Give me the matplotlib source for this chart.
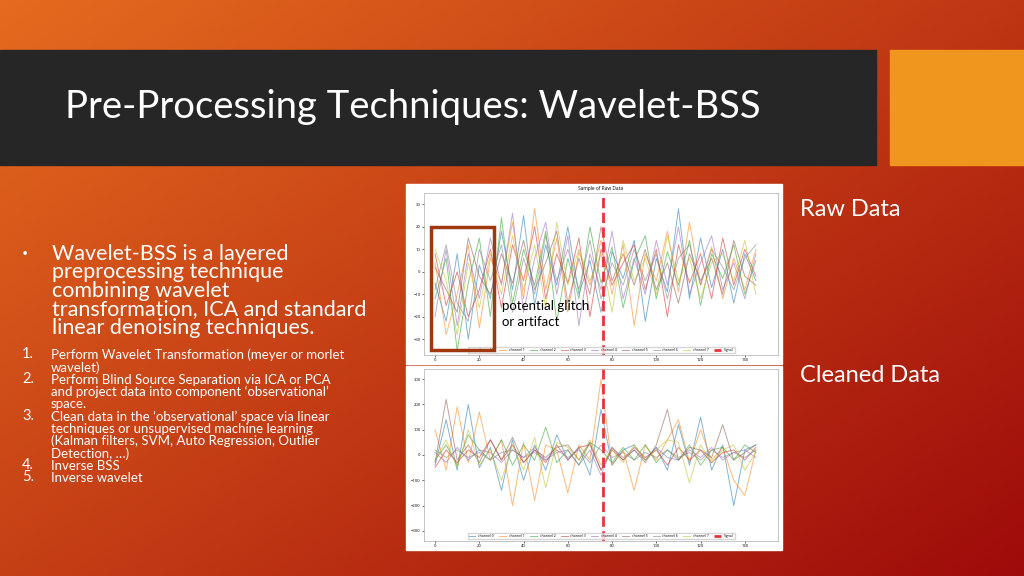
import numpy as np
import matplotlib.pyplot as plt

# ---- data (estimated from the slide) ----
x_time = list(range(0, 150, 5))
signal_x = 76

raw_channels = {
    "channel 0": [-5, -22, 8, -30, 3, -12, 18, -8, 25, -15, 12, -6, 20, -10, 5, -18, 9, -3, 14, -22, 6, -9, 28, -12, 15, -7, 10, -14, 8, -4],
    "channel 1": [4, -28, -10, 12, -25, 6, -5, 22, -12, 28, -8, 15, -18, 9, -6, 14, -10, 12, -24, 8, -4, 18, -9, 22, -6, 11, -12, 6, -8, 10],
    "channel 2": [-12, 6, -35, -5, 15, -20, 24, -14, 10, -6, 18, -22, 6, -12, 20, -5, 11, -16, 5, 16, -12, 9, -6, 14, -15, 8, -3, 12, -10, 5],
    "channel 3": [8, -15, 0, -20, -8, 10, -16, 12, -4, 20, -12, 8, -5, 15, -20, 10, -6, 4, 12, -8, 10, -20, 12, -5, 8, -12, 15, -6, 10, -2],
    "channel 4": [-20, 10, -24, 8, -12, 15, -6, 26, -18, 6, 22, -10, 16, -24, 8, -8, 18, -12, 6, -10, 14, -6, 20, -10, 4, 16, -8, 4, -12, 8],
    "channel 5": [2, -8, -18, 15, -2, -10, 8, -5, 14, -8, 4, 18, -14, 6, -10, 20, -4, 8, -6, 10, -8, 4, -14, 8, -4, 6, -10, 14, -2, -6],
    "channel 6": [-8, 12, -14, -22, 10, -4, 12, -18, 6, -10, 16, -4, 10, -8, 14, -12, 4, -6, 10, -4, 8, -12, 6, 12, -6, 10, 2, -8, 6, 12],
    "channel 7": [10, -4, -28, 4, -16, 8, -10, 16, -8, 12, -16, 22, -6, 10, -4, 8, -18, 14, -4, 6, -10, 16, -4, 6, -12, 4, 8, -4, 14, -10],
}

clean_channels = {
    "channel 0": [-40, 140, -60, 200, -50, 30, -140, 60, -100, 40, -60, 80, -20, 30, -80, 180, -40, 20, 40, -20, 30, -60, 120, -40, 150, -60, 40, -200, 20, 40],
    "channel 1": [100, -60, 190, -30, 170, -20, 60, -200, 50, -180, 40, 20, -150, 40, -20, 300, -40, 20, -140, 40, -20, 60, 140, -30, 100, -20, 30, -100, -160, 20],
    "channel 2": [-20, 40, -40, 80, 20, -20, 60, -40, 40, -20, 110, -30, 20, -40, 50, 20, -30, 30, -20, 40, -30, 20, -20, 40, -40, 20, 30, -20, 40, 10],
    "channel 3": [-50, 20, -30, 20, -10, 60, -20, 40, -30, 20, -30, 40, -20, 30, 40, -60, 20, -20, 30, -10, 20, -40, 30, -20, 20, -30, 10, 20, -20, 30],
    "channel 4": [10, -30, 30, -20, 20, 10, -30, 20, -10, 30, -20, 10, 20, -40, 20, -80, 30, -10, 20, -20, 30, -10, -20, 20, -10, 30, -20, 10, 20, -10],
    "channel 5": [-30, 220, -20, 40, -30, 60, -20, 70, -30, 20, -10, 30, 40, -20, 50, -60, 30, -20, 20, -30, 40, 180, -20, 30, 20, -10, 120, -20, 10, 40],
    "channel 6": [20, -10, 20, -10, 10, -20, 10, 20, -10, 10, -20, 20, -10, 20, -30, 40, -10, 10, -20, 10, -10, 20, -10, 10, -20, 20, -10, 10, -10, 20],
    "channel 7": [-20, 60, -50, 100, -40, 20, -100, 40, -60, 70, -130, 50, 30, -20, 60, -40, 20, -30, 40, -20, 20, 60, 50, -110, 40, -30, 20, 40, -60, 10],
}

line_colors = ["#1f77b4", "#ff7f0e", "#2ca02c", "#d62728", "#9467bd", "#8c564b", "#7f7f7f", "#bcbd22"]

bullet_lines = ["Wavelet-BSS is a layered", "preprocessing technique", "combining wavelet",
                "transformation, ICA and standard", "linear denoising techniques."]
steps = [
    ("1.", ["Perform Wavelet Transformation (meyer or morlet", "wavelet)"]),
    ("2.", ["Perform Blind Source Separation via ICA or PCA",
            "and project data into component \u2018observational\u2019", "space."]),
    ("3.", ["Clean data in the \u2018observational\u2019 space via linear",
            "techniques or unsupervised machine learning",
            "(Kalman filters, SVM, Auto Regression, Outlier", "Detection, \u2026)"]),
    ("4.", ["Inverse BSS"]),
    ("5.", ["Inverse wavelet"]),
]

W, H = 1024, 576
fig = plt.figure(figsize=(W / 100, H / 100), dpi=100)
plt.rcParams["font.family"] = "Open Sans"


def px_axes(x0, y0, x1, y1):
    """axes from pixel box (top-left origin)"""
    return fig.add_axes([x0 / W, 1 - y1 / H, (x1 - x0) / W, (y1 - y0) / H])


# background gradient
bg = fig.add_axes([0, 0, 1, 1])
gx, gy = np.meshgrid(np.linspace(0, 1, 200), np.linspace(0, 1, 120))
t = np.clip(0.55 * gx + 0.45 * gy, 0, 1)
c0 = np.array([0.90, 0.42, 0.12])
c1 = np.array([0.62, 0.04, 0.04])
img = c0[None, None, :] * (1 - t[..., None]) + c1[None, None, :] * t[..., None]
bg.imshow(img, extent=[0, W, H, 0], aspect="auto")
bg.set_xlim(0, W)
bg.set_ylim(H, 0)
bg.axis("off")

# header band and orange square
bg.add_patch(plt.Rectangle((0, 50), 876, 115, color="#262626"))
bg.add_patch(plt.Rectangle((890, 50), 134, 115, color="#f0951e"))
bg.text(65, 107, "Pre-Processing Techniques: Wavelet-BSS", color="white", fontsize=27.5,
        va="center", family="Lato")

# right-side labels
bg.text(800, 210, "Raw Data", color="white", fontsize=17, va="center", family="Lato")
bg.text(800, 376, "Cleaned Data", color="white", fontsize=17, va="center", family="Lato")

# left bullet text, one line at a time
bg.text(22, 255, "\u2022", color="white", fontsize=12, va="center")
for i, line in enumerate(bullet_lines):
    bg.text(52, 254 + 18.5 * i, line, color="white", fontsize=15.5, va="center", family="Lato")

y = 355
for num, lines in steps:
    bg.text(22, y - 1, num, color="white", fontsize=10.5, va="center", family="Lato")
    for line in lines:
        bg.text(51, y, line, color="white", fontsize=9.5, va="center", family="Lato")
        y += 12.3

# chart image frames
bg.add_patch(plt.Rectangle((406, 184), 376, 180, color="white"))
bg.add_patch(plt.Rectangle((406, 366), 376, 184, color="white"))


def draw_panel(ax, data, ylim, yticks, title=None):
    for (name, vals), col in zip(data.items(), line_colors):
        ax.plot(x_time, vals, color=col, lw=0.7, alpha=0.55, label=name)
    ax.axvline(signal_x, color="#e8333a", lw=2, ls="--", label="Signal")
    ax.set_xlim(-5, 155)
    ax.set_ylim(*ylim)
    ax.set_yticks(yticks)
    ax.set_xticks(range(0, 141, 20))
    ax.tick_params(labelsize=3, length=1.5, width=0.4, pad=1)
    for s in ax.spines.values():
        s.set_linewidth(0.4)
        s.set_color("#999999")
    if title:
        ax.set_title(title, fontsize=3.5, pad=2)
    ax.legend(loc="lower center", ncol=9, fontsize=2.5, frameon=True, handlelength=2,
              columnspacing=1.5, borderpad=0.3, labelspacing=0.2)


ax1 = px_axes(424, 193, 778, 355)
draw_panel(ax1, raw_channels, (-37, 35), [-30, -20, -10, 0, 10, 20, 30], "Sample of Raw Data")
ax2 = px_axes(424, 369, 778, 541)
draw_panel(ax2, clean_channels, (-340, 340), [-300, -200, -100, 0, 100, 200, 300])

# glitch annotation box on top of the chart
ann = fig.add_axes([0, 0, 1, 1], facecolor="none")
ann.set_xlim(0, W)
ann.set_ylim(H, 0)
ann.axis("off")
ann.add_patch(plt.Rectangle((431, 227), 63, 123, fill=False, ec="#a0380f", lw=2.5))
ann.text(502, 314, "potential glitch\nor artifact", fontsize=9.5, va="center", color="black",
         linespacing=1.3, family="Lato")

fig.savefig("out.png", dpi=100)
